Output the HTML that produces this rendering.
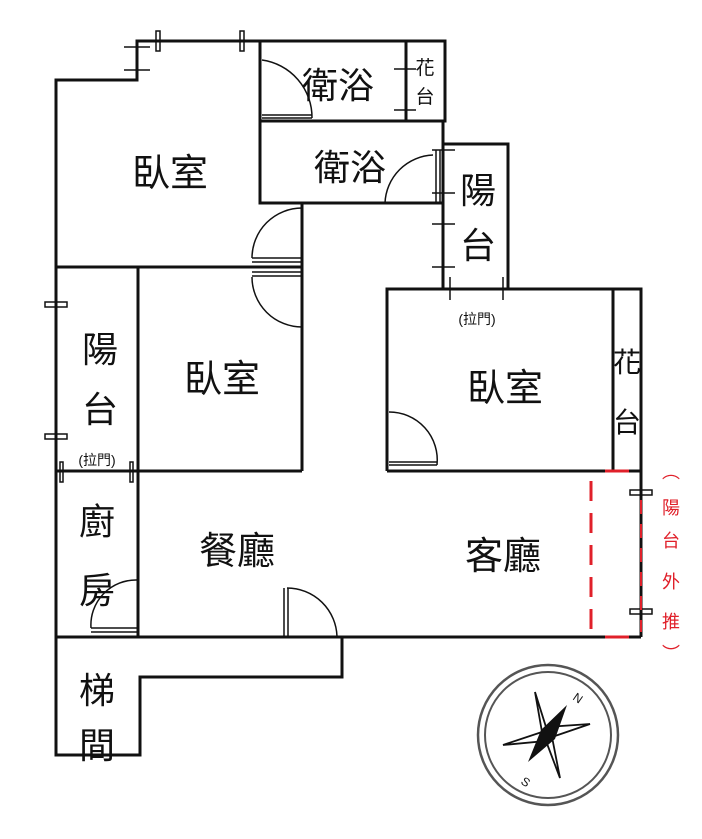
<!DOCTYPE html>
<html><head><meta charset="utf-8"><style>
html,body{margin:0;padding:0;background:#fff;}
svg{display:block;}
text{font-family:"Liberation Sans","Noto Sans CJK TC",sans-serif;fill:#111;}
</style></head><body>
<svg width="702" height="839" viewBox="0 0 702 839" xmlns="http://www.w3.org/2000/svg">
<g stroke="#111" stroke-width="3" fill="none">
<polyline points="56,637 56,80 137,80 137,41 445,41 445,121"/>
<rect x="260" y="41" width="185" height="80"/>
<line x1="406" y1="41" x2="406" y2="121"/>
<rect x="260" y="121" width="183" height="82"/>
<polyline points="443,144 508,144 508,289"/>
<line x1="443" y1="203" x2="443" y2="289"/>
<line x1="56" y1="267" x2="302" y2="267"/>
<line x1="302" y1="203" x2="302" y2="471"/>
<line x1="138" y1="267" x2="138" y2="637"/>
<line x1="56" y1="471" x2="302" y2="471"/>
<polyline points="387,471 387,289 641,289 641,637"/>
<line x1="387" y1="471" x2="641" y2="471"/>
<line x1="613" y1="289" x2="613" y2="471"/>
<line x1="56" y1="637" x2="641" y2="637"/>
<polyline points="342,637 342,677 140,677 140,755 56,755 56,637"/>
</g>
<g stroke="#111" stroke-width="1.5" fill="none">
<rect x="156" y="31" width="4" height="20"/><rect x="240" y="31" width="4" height="20"/>
<line x1="124" y1="47" x2="150" y2="47"/><line x1="124" y1="70" x2="150" y2="70"/>
<rect x="45" y="302" width="22" height="5"/><rect x="45" y="434" width="22" height="5"/>
<rect x="60" y="462" width="3" height="20"/><rect x="130" y="462" width="3" height="20"/>
<line x1="394" y1="69" x2="416" y2="69"/><line x1="394" y1="110" x2="416" y2="110"/>
<line x1="432" y1="150" x2="455" y2="150"/><line x1="432" y1="193" x2="455" y2="193"/>
<line x1="432" y1="224" x2="455" y2="224"/><line x1="432" y1="267" x2="455" y2="267"/>
<line x1="436" y1="150" x2="436" y2="203"/><line x1="440" y1="150" x2="440" y2="203"/>
<line x1="450" y1="277" x2="450" y2="300"/><line x1="503" y1="277" x2="503" y2="300"/>
<rect x="630" y="490" width="22" height="5"/><rect x="630" y="609" width="22" height="5"/>
<path d="M262,60 A58,58 0 0 1 312,118"/><line x1="262" y1="118" x2="312" y2="118"/><line x1="262" y1="115" x2="312" y2="115"/>
<path d="M433,155 A50,50 0 0 0 385,203"/>
<path d="M302,208 A50,50 0 0 0 252,258"/><line x1="252" y1="258" x2="302" y2="258"/><line x1="252" y1="262" x2="302" y2="262"/>
<path d="M302,327 A50,50 0 0 1 252,277"/><line x1="252" y1="272" x2="302" y2="272"/><line x1="252" y1="276" x2="302" y2="276"/>
<path d="M389,412 A48,48 0 0 1 437,465"/><line x1="389" y1="462" x2="437" y2="462"/><line x1="389" y1="465" x2="437" y2="465"/>
<path d="M137,580 A45,45 0 0 0 91,628"/><line x1="91" y1="628" x2="137" y2="628"/><line x1="91" y1="632" x2="137" y2="632"/>
<path d="M287,588 A50,50 0 0 1 337,637"/><line x1="284" y1="588" x2="284" y2="637"/><line x1="288" y1="588" x2="288" y2="637"/>
</g>
<g stroke="#e0202a" stroke-width="3" fill="none">
<line x1="591" y1="481" x2="591" y2="632" stroke-dasharray="20,12"/>
<line x1="605" y1="471" x2="629" y2="471"/><line x1="605" y1="637" x2="629" y2="637"/>
<line x1="641" y1="500" x2="641" y2="632" stroke-dasharray="14,10" stroke-width="2"/>
</g>
<g text-anchor="middle" font-size="18">
<text x="671" y="478" style="fill:#e0202a">︵</text>
<text x="671" y="514" style="fill:#e0202a">陽</text>
<text x="671" y="547" style="fill:#e0202a">台</text>
<text x="671" y="588" style="fill:#e0202a">外</text>
<text x="671" y="628" style="fill:#e0202a">推</text>
<text x="671" y="660" style="fill:#e0202a">︶</text>
</g>
<g text-anchor="middle">
<text x="170" y="186" font-size="38">臥室</text>
<text x="338" y="98" font-size="36">衛浴</text>
<text x="350" y="180" font-size="36">衛浴</text>
<text x="425" y="74" font-size="19">花</text><text x="425" y="103" font-size="19">台</text>
<text x="478" y="203" font-size="36">陽</text><text x="478" y="258" font-size="36">台</text>
<text x="477" y="324" font-size="14">(拉門)</text>
<text x="100" y="362" font-size="36">陽</text><text x="100" y="422" font-size="36">台</text>
<text x="97" y="465" font-size="14">(拉門)</text>
<text x="222" y="392" font-size="38">臥室</text>
<text x="505" y="401" font-size="38">臥室</text>
<text x="627" y="372" font-size="28">花</text><text x="627" y="432" font-size="28">台</text>
<text x="97" y="534" font-size="36">廚</text><text x="97" y="603" font-size="36">房</text>
<text x="237" y="564" font-size="38">餐廳</text>
<text x="503" y="569" font-size="38">客廳</text>
<text x="97" y="703" font-size="36">梯</text><text x="97" y="758" font-size="36">間</text>
</g>
<g transform="translate(548,735)">
<circle r="70" fill="none" stroke="#555" stroke-width="2.5"/>
<circle r="63" fill="none" stroke="#555" stroke-width="2"/>
<polygon points="-13,-43 -2,-8 42,-11 4,2 12,43 -2,6 -45,10 -6,-3" fill="none" stroke="#111" stroke-width="1.8"/>
<polygon points="19,-30 7,4 -20,27 -7,-5" fill="#111"/>
<text x="24" y="-36" font-size="12" transform="rotate(35 24 -36)">N</text>
<text x="-28" y="48" font-size="12" transform="rotate(35 -28 48)">S</text>
</g>
</svg>
</body></html>
